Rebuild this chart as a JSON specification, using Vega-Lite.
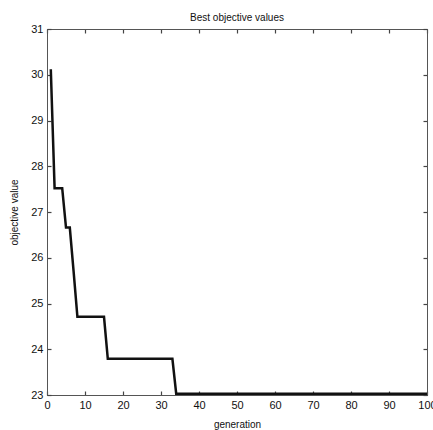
{
  "$schema": "https://vega.github.io/schema/vega-lite/v6.json",
  "autosize": "none",
  "padding": {"left": 47, "top": 29, "right": 6, "bottom": 35},
  "width": 380,
  "height": 366,
  "background": "white",
  "title": {"text": "Best objective values", "font": "Liberation Sans", "fontSize": 10, "fontWeight": "normal", "color": "#111", "offset": 0},
  "config": {
    "view": {"stroke": "#555", "strokeWidth": 1},
    "axis": {"labelFont": "Liberation Sans", "titleFont": "Liberation Sans", "labelFontSize": 11, "titleFontSize": 10, "titleFontWeight": "normal", "labelColor": "#111", "titleColor": "#111", "domainColor": "#555", "tickColor": "#444", "tickWidth": 1.2, "grid": false, "tickSize": -4, "labelPadding": 8}
  },
  "data": {"values": [
    {"generation": 1, "value": 30.12},
    {"generation": 2, "value": 27.52},
    {"generation": 3, "value": 27.52},
    {"generation": 4, "value": 27.52},
    {"generation": 5, "value": 26.66},
    {"generation": 6, "value": 26.66},
    {"generation": 7, "value": 25.7},
    {"generation": 8, "value": 24.71},
    {"generation": 15, "value": 24.71},
    {"generation": 16, "value": 23.79},
    {"generation": 33, "value": 23.79},
    {"generation": 34, "value": 23.03},
    {"generation": 100, "value": 23.03}
  ]},
  "layer": [
    {
      "mark": {"type": "line", "color": "#111", "strokeWidth": 2.5, "clip": true},
      "encoding": {
        "x": {"field": "generation", "type": "quantitative", "scale": {"domain": [0, 100], "nice": false, "zero": false}, "axis": {"values": [0,10,20,30,40,50,60,70,80,90,100], "title": "generation", "titlePadding": 9, "labelFlush": false}},
        "y": {"field": "value", "type": "quantitative", "scale": {"domain": [23, 31], "nice": false, "zero": false}, "axis": {"values": [23,24,25,26,27,28,29,30,31], "title": "objective value", "titlePadding": 11}}
      }
    },
    {
      "mark": {"type": "line", "opacity": 0},
      "encoding": {
        "x": {"field": "generation", "type": "quantitative", "scale": {"domain": [0, 100], "nice": false, "zero": false}, "axis": {"orient": "top", "values": [0,10,20,30,40,50,60,70,80,90,100], "labels": false, "title": null}},
        "y": {"field": "value", "type": "quantitative", "scale": {"domain": [23, 31], "nice": false, "zero": false}, "axis": {"orient": "right", "values": [23,24,25,26,27,28,29,30,31], "labels": false, "title": null}}
      }
    }
  ],
  "resolve": {"scale": {"x": "independent", "y": "independent"}, "axis": {"x": "independent", "y": "independent"}}
}
